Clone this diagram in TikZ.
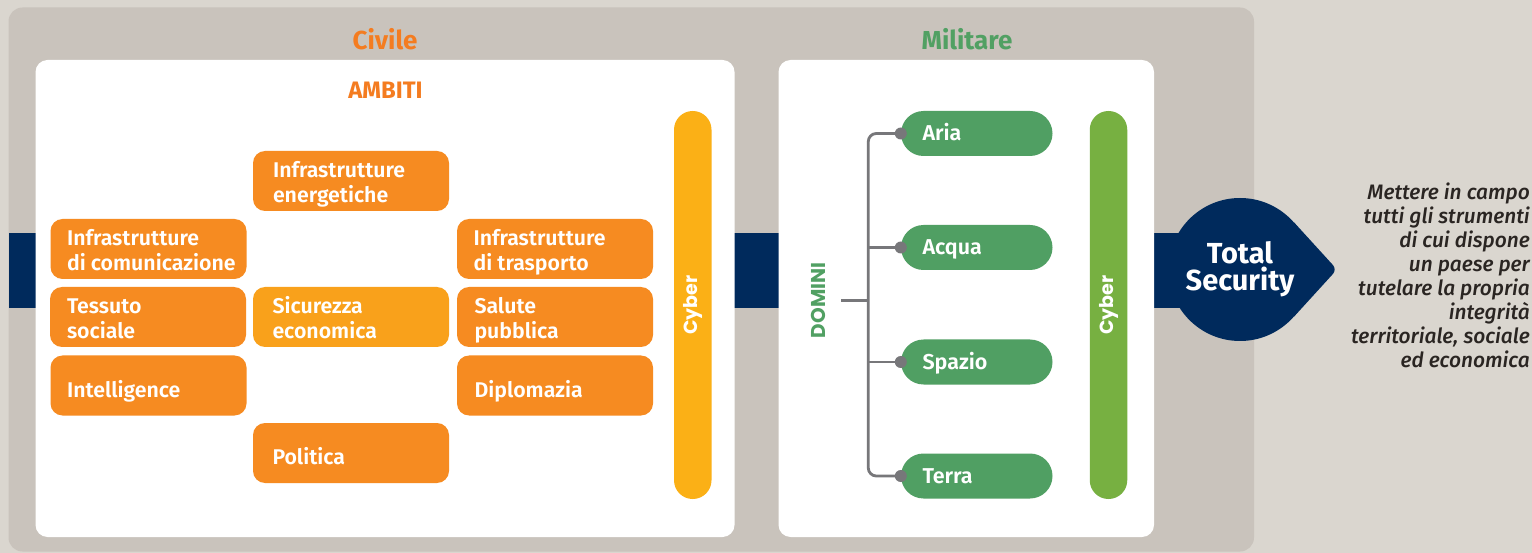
\documentclass[tikz,border=0pt]{standalone}
\usepackage{fontspec}
\setmainfont{Fira Sans}
\newfontfamily\fsemi{Fira Sans SemiBold}
\newfontfamily\fbold{Fira Sans Bold}
\newfontfamily\fgeo{Poppins Bold}
\newfontfamily\fmedit{Fira Sans Medium Italic}
\definecolor{pagebg}{HTML}{DAD6CF}
\definecolor{panelgray}{HTML}{C9C3BC}
\definecolor{navy}{HTML}{002A5C}
\definecolor{boxor}{HTML}{F68B21}
\definecolor{boxlt}{HTML}{F9A11B}
\definecolor{civor}{HTML}{F47C20}
\definecolor{cybyel}{HTML}{FBB016}
\definecolor{pillgr}{HTML}{509F63}
\definecolor{cybgr}{HTML}{77B041}
\definecolor{milgr}{HTML}{51A063}
\definecolor{treegray}{HTML}{77777A}
\definecolor{txtdark}{HTML}{2A2522}
\begin{document}
\begin{tikzpicture}[x=1pt,y=-1pt,
  box/.style={fill=boxor, rounded corners=12pt, minimum width=196pt, minimum height=60pt, inner sep=0pt},
  two/.style={anchor=base west, align=left, inner sep=0pt, text=white, font=\fsemi\fontsize{21.3}{24.6}\selectfont},
  one/.style={anchor=west, inner sep=0pt, text=white, text height=14.7pt, text depth=0pt, font=\fsemi\fontsize{21.3}{24.6}\selectfont},
  pill/.style={fill=pillgr, rounded corners=22.5pt, minimum width=151.5pt, minimum height=45pt, inner sep=0pt},
  pilltxt/.style={anchor=west, inner sep=0pt, text=white, text height=15pt, text depth=0pt, font=\fsemi\fontsize{21.5}{24}\selectfont},
  bar/.style={rounded corners=18.7pt, minimum width=37.5pt, minimum height=388pt, inner sep=0pt},
  cyb/.style={rotate=90, inner sep=0pt, text=white, font=\fgeo\fontsize{19}{22}\selectfont},
  title/.style={inner sep=0pt, font=\fbold\fontsize{26}{30}\selectfont},
  tree/.style={draw=treegray, line width=2.8pt},
  dot/.style={fill=treegray}
]
\fill[pagebg] (0,0) rectangle (1532,553);
\useasboundingbox (0,0) rectangle (1532,553);
\fill[panelgray, rounded corners=14pt] (8.5,7.5) rectangle (1254,551.5);
\fill[navy] (8.5,233) rectangle (1240,308);
\fill[white, rounded corners=12pt] (35.5,60) rectangle (734.5,537);
\fill[white, rounded corners=12pt] (778.5,60) rectangle (1154,537);

% titles
\node[title, text=civor, anchor=base] (civ) at (385,50) {Civile};
\node[title, text=milgr, anchor=base] (mil) at (967,50) {Militare};
\node[inner sep=0pt, text=civor, anchor=base, font=\fbold\fontsize{23.8}{26}\selectfont] (amb) at (385.5,99) {AMBITI};

% civil boxes
\node[box] (ene) at (351,181) {};
\node[two] at ([xshift=20pt,yshift=-21.3pt]ene.west) {Infrastrutture\\energetiche};
\node[box] (com) at (148.5,249) {};
\node[two] at ([xshift=16.5pt,yshift=-21.3pt]com.west) {Infrastrutture\\di comunicazione};
\node[box] (tra) at (555,249) {};
\node[two] at ([xshift=16.5pt,yshift=-21.3pt]tra.west) {Infrastrutture\\di trasporto};
\node[box] (tes) at (148,317) {};
\node[two] at ([xshift=17pt,yshift=-21.3pt]tes.west) {Tessuto\\sociale};
\node[box, fill=boxlt] (sic) at (351,317) {};
\node[two] at ([xshift=19.5pt,yshift=-21.3pt]sic.west) {Sicurezza\\economica};
\node[box] (sal) at (555,317) {};
\node[two] at ([xshift=17.5pt,yshift=-21.3pt]sal.west) {Salute\\pubblica};
\node[box] (int) at (148.5,385.5) {};
\node[one] at ([xshift=16.5pt,yshift=-4.5pt]int.west) {Intelligence};
\node[box] (dip) at (555,385.5) {};
\node[one] at ([xshift=17.5pt,yshift=-4.5pt]dip.west) {Diplomazia};
\node[box] (pol) at (351,453) {};
\node[one] at ([xshift=19.5pt,yshift=-4.5pt]pol.west) {Politica};

% cyber bars
\node[bar, fill=cybyel] (cyc) at (692.75,305) {};
\node[cyb] at (cyc.center) {Cyber};
\node[bar, fill=cybgr] (cym) at (1108.5,305) {};
\node[cyb] at (cym.center) {Cyber};

% military pills
\node[pill] (aria) at (976.75,133.5) {};
\node[pilltxt] at ([xshift=21.5pt]aria.west) {Aria};
\node[pill] (acqua) at (976.75,247.5) {};
\node[pilltxt] at ([xshift=21.5pt]acqua.west) {Acqua};
\node[pill] (spazio) at (976.75,362) {};
\node[pilltxt] at ([xshift=21.5pt]spazio.west) {Spazio};
\node[pill] (terra) at (976.75,476) {};
\node[pilltxt] at ([xshift=21.5pt]terra.west) {Terra};

% tree
\node[rotate=90, inner sep=0pt, text=milgr, font=\fgeo\fontsize{20}{22}\selectfont] (dom) at (818.7,300.5) {DOMINI};
\coordinate (trunk) at (868.3,300.7);
\coordinate (stub) at (841,300.7);
\draw[tree, rounded corners=8pt] (aria.west) -| (trunk) |- (terra.west);
\draw[tree] (acqua.west) -- (acqua.west -| trunk);
\draw[tree] (spazio.west) -- (spazio.west -| trunk);
\draw[tree] (stub) -- (trunk);
\foreach \n in {aria,acqua,spazio,terra} \fill[dot] (\n.west) circle (6pt);

% total security
\node[circle, fill=navy, minimum size=143pt, inner sep=0pt] (ts) at (1240,269.5) {};
\coordinate (tip) at (1337,269.5);
\fill[navy] (ts.center) -- (ts.41) [rounded corners=6pt] -- (tip) [sharp corners] -- (ts.-41) -- cycle;
\node[align=center, inner sep=0pt, text=white, font=\fbold\fontsize{29}{27}\selectfont] (tstxt) at (ts.center) {Total\\Security};

% description
\node[anchor=north east, align=right, inner sep=0pt, text=txtdark, font=\fmedit\fontsize{20.9}{24}\selectfont] (desc) at (1530,183) {Mettere in campo\\tutti gli strumenti\\di cui dispone\\un paese per\\tutelare la propria\\integrità\\territoriale, sociale\\ed economica};
\end{tikzpicture}
\end{document}
